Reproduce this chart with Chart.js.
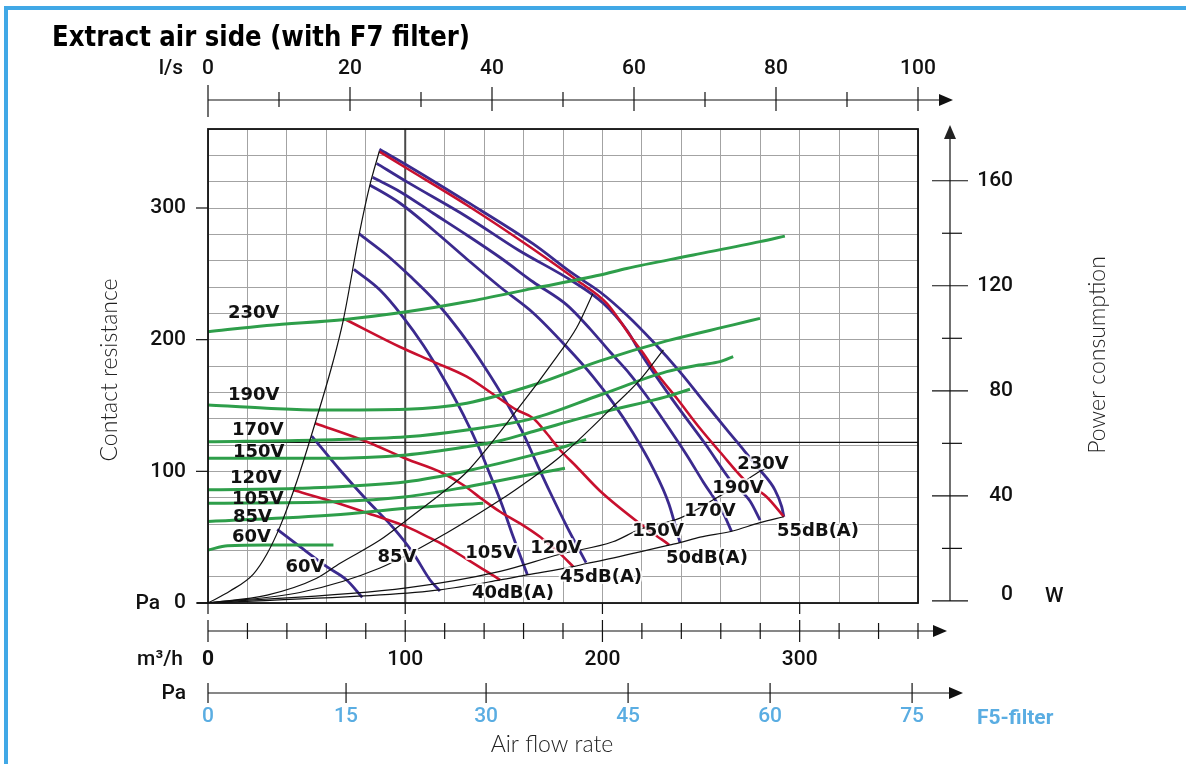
<!DOCTYPE html>
<html>
<head>
<meta charset="utf-8">
<script src="https://cdn.jsdelivr.net/npm/chart.js@4.4.1/dist/chart.umd.min.js"></script>
<style>
  html, body { margin: 0; padding: 0; background: #fff; }
  #wrap { width: 1186px; height: 764px; }
</style>
</head>
<body>
<div id="wrap"><canvas id="chart" width="1186" height="764"></canvas></div>
<script>
// ---- data: [air flow m3/h, pressure Pa] ----
const FAN_230 = [[86.9,344.6],[100.7,332.7],[131.2,304.8],[164.9,272.7],[185.2,249.9],[198.8,236.2],[212.3,218.7],[225.8,198.2],[239.4,175.4],[252.0,151.9],[268.2,122.3],[279.9,101.0],[287.5,85.8],[290.9,73.1],[292.0,65.5]];
const FAN_190 = [[85.5,333.9],[100.7,320.0],[131.2,293.4],[157.3,268.1],[185.2,244.0],[200.4,227.6],[212.3,207.3],[220.6,186.8],[235.9,153.7],[252.5,120.0],[265.6,91.9],[274.8,77.5],[279.9,63.0]];
const FAN_170 = [[83.5,323.3],[97.4,312.4],[114.2,296.0],[131.2,279.5],[148.1,262.4],[164.9,243.8],[181.9,226.4],[193.7,208.2],[203.9,190.6],[213.9,173.9],[222.4,157.2],[232.6,135.2],[242.7,112.4],[251.1,91.9],[261.3,68.1],[265.5,54.2]];
const FAN_150 = [[82.1,317.5],[97.4,303.6],[114.2,283.3],[131.2,261.3],[148.1,240.0],[164.9,220.3],[181.9,194.4],[195.4,171.6],[205.5,151.8],[215.6,128.9],[225.6,102.5],[233.7,75.2],[239.3,45.8]];
const FAN_120 = [[76.7,280.3],[90.6,264.3],[102.4,248.3],[115.6,228.6],[128.3,205.1],[140.6,178.5],[151.5,151.9],[159.9,128.4],[166.8,105.6],[173.4,84.3],[182.1,57.7],[191.7,30.6]];
const FAN_105 = [[74.0,253.4],[87.2,237.7],[98.9,217.2],[109.1,195.9],[119.3,170.9],[129.5,142.9],[137.9,116.2],[143.5,95.7],[149.1,74.4],[154.8,50.1],[162.0,21.3]];
const FAN_85 = [[52.6,126.8],[66.9,101.0],[80.5,78.2],[94.0,57.0],[104.1,37.7],[112.6,17.5],[117.6,9.1]];
const FAN_60 = [[35.1,56.0],[46.6,42.8],[60.2,27.6],[70.3,17.5],[78.2,4.3]];

// sound level lines
const DB_40 = [[43.2,85.8],[63.5,76.9],[83.8,66.8],[100.7,58.0],[110.9,50.6],[117.6,45.6],[131.2,33.4],[148.1,17.5]];
const DB_45 = [[54.3,136.5],[80.5,122.5],[100.7,109.4],[117.6,99.7],[129.4,89.6],[139.6,78.2],[148.1,69.3],[158.2,60.5],[168.3,50.3],[178.5,37.5],[185.2,27.6]];
const DB_50 = [[69.5,215.5],[97.4,194.4],[114.2,183.3],[131.2,171.9],[146.4,156.7],[156.5,146.6],[164.9,140.3],[171.7,128.9],[178.5,116.2],[186.9,103.5],[198.8,85.1],[219.0,60.3],[233.9,44.1]];
const DB_55 = [[86.9,342.8],[100.7,330.2],[131.2,302.3],[163.3,270.4],[186.9,245.3],[202.2,227.6],[215.6,199.7],[220.7,189.6],[227.5,174.5],[237.6,155.7],[248.9,133.7],[259.6,114.7],[273.1,91.9],[283.3,80.5],[292.0,65.5]];

// system curves (black)
const SYS_1 = [[0,0],[11.2,9.1],[23.0,22.0],[29.8,37.0],[36.5,58.0],[45.1,92.7],[54.8,139.0],[63.5,183.8],[68.6,214.9],[76.7,280.3],[82.1,317.5],[86.9,343.3]];
const SYS_2 = [[0,0],[30,6],[55.1,18.8],[67.0,30.2],[87.2,47.8],[100.7,62.9],[121.0,86.4],[131.2,99.5],[156.7,146.6],[176.8,187.0],[186.9,209.0],[195.1,234.9]];
const SYS_3 = [[0,0],[46.6,8],[87.2,26.6],[121.0,53.2],[148.1,78.2],[156.5,86.6],[178.5,111.1],[205.5,149.3],[219.0,169.5],[230.9,192.3]];
const SYS_4 = [[0,0],[100.7,11.5],[148.1,24],[178.5,37],[205.3,46.5],[219,56],[239.3,64.5],[258,80],[269.7,90],[279.9,100],[282.9,102]];
const SYS_5 = [[0,0],[87.2,6.1],[117.6,10],[148.1,17.5],[161.6,21.3],[185.2,27.6],[192,30],[198.8,32],[234.3,44.1],[239.3,45.8],[249.5,50],[265.5,54.5],[279.9,61],[292,65.5]];

// power consumption [air flow m3/h, W]
const POW_230 = [[0,102.5],[29.8,104.9],[69.5,107.2],[100.7,110.1],[131.2,113.9],[164.9,119.0],[198.8,124.1],[212.3,126.6],[246.1,131.7],[279.9,136.8],[292.5,138.9]];
const POW_190 = [[0,74.6],[29.8,73.4],[56.8,72.7],[100.7,73.0],[131.2,75.3],[164.9,82.2],[198.8,91.4],[232.6,99.0],[266.3,105.1],[279.9,107.6]];
const POW_170 = [[0,60.6],[56.8,61.3],[100.7,62.5],[131.2,65.1],[164.9,69.5],[198.8,78.4],[232.6,87.3],[248.9,89.8],[259.6,91.1],[266.3,93.0]];
const POW_150 = [[0,54.3],[56.8,54.3],[100.7,55.6],[131.2,58.7],[148.1,61.0],[164.9,64.5],[198.8,71.6],[232.6,77.8],[244.4,80.6]];
const POW_120 = [[0,42.3],[46.6,42.9],[100.7,45.4],[131.2,49.5],[164.9,55.6],[181.9,59.0],[191.7,61.5]];
const POW_105 = [[0,37.2],[63.5,37.8],[100.7,39.7],[131.2,43.4],[164.9,48.3],[181.0,50.5]];
const POW_85 = [[0,30.2],[63.5,32.7],[100.7,35.3],[139.6,37.2]];
const POW_60 = [[0,19.4],[10,21.0],[30,21.3],[63.6,21.3]];

const VOLTAGES = ["230V", "190V", "170V", "150V", "120V", "105V", "85V", "60V"];
const DB_NAMES = ["40dB(A)", "45dB(A)", "50dB(A)", "55dB(A)"];

// axis ticks
const LS_TICKS = [0, 10, 20, 30, 40, 50, 60, 70, 80, 90, 100];
const LS_LABELS = [0, 20, 40, 60, 80, 100];
const FLOW_LABELS = [0, 100, 200, 300];
const PA_LABELS = [0, 100, 200, 300];
const W_TICKS = [0, 20, 40, 60, 80, 100, 120, 140, 160];
const W_LABELS = [0, 40, 80, 120, 160];
const F5_LABELS = [0, 15, 30, 45, 60, 75];
const F5_FLOW = [0, 70, 141, 213, 285, 357];

const PURPLE = "#3b2a8e";
const RED = "#c8102e";
const GREEN = "#2e9e4a";
const BLUE = "#5aade2";
const FRAME_BLUE = "#41a8e6";
const NUM_FONT = '500 21px Roboto, "DejaVu Sans"';
const LABEL_FONT = 'bold 18px "DejaVu Sans"';
const LIGHT_FONT = '300 23px Lato, "Open Sans"';

function curve(points, color, width, order, axis) {
    return {
        data: points.map(([q, v]) => ({x: q, y: v})),
        borderColor: color,
        borderWidth: width,
        showLine: true,
        pointRadius: 0,
        fill: false,
        cubicInterpolationMode: "monotone",
        yAxisID: axis || "y",
        order: order
    };
}

function seg(ctx, x1, y1, x2, y2) {
    ctx.beginPath();
    ctx.moveTo(x1, y1);
    ctx.lineTo(x2, y2);
    ctx.stroke();
}

function label(ctx, s, x, y, font, color, align, halo) {
    ctx.font = font;
    ctx.textAlign = align || "center";
    ctx.textBaseline = "middle";
    if (halo) {
        ctx.strokeStyle = "rgba(255,255,255,0.85)";
        ctx.lineWidth = 4;
        ctx.lineJoin = "round";
        ctx.strokeText(s, x, y);
    }
    ctx.fillStyle = color;
    ctx.fillText(s, x, y);
}

const decor = {
    id: "decor",
    beforeDatasetsDraw(chart) {
        const {ctx, chartArea: a, scales: {x, yW}} = chart;
        ctx.save();
        ctx.strokeStyle = "#4a4a4a";
        ctx.lineWidth = 2;
        const x100 = x.getPixelForValue(100);
        seg(ctx, x100, a.top, x100, a.bottom);
        ctx.strokeStyle = "#111";
        ctx.lineWidth = 1.2;
        const y60 = yW.getPixelForValue(60) - 1;
        seg(ctx, a.left, y60, a.right, y60);
        ctx.restore();
    },
    afterDatasetsDraw(chart) {
        const {ctx, scales: {x, y}} = chart;
        ctx.save();
        // voltage labels of the power curves
        const greenPos = [[10.1, 220.3], [10.1, 158.0], [12.2, 131.4], [12.7, 114.7], [11.2, 94.9], [12.2, 79.0], [12.7, 65.3], [12.2, 50.1]];
        VOLTAGES.forEach((v, i) => {
            label(ctx, v, x.getPixelForValue(greenPos[i][0]), y.getPixelForValue(greenPos[i][1]), LABEL_FONT, "#111", "left", false);
        });
        // voltage labels of the fan curves
        const fanPos = [[281.4, 105.6], [268.7, 87.3], [254.5, 69.9], [228.2, 54.7], [176.4, 41.8], [143.5, 38.0], [95.8, 34.9], [49.2, 27.3]];
        VOLTAGES.forEach((v, i) => {
            label(ctx, v, x.getPixelForValue(fanPos[i][0]), y.getPixelForValue(fanPos[i][1]), LABEL_FONT, "#111", "center", true);
        });
        const dbPos = [[154.6, 7.6], [199.3, 19.7], [253.0, 34.2], [309.3, 54.7]];
        DB_NAMES.forEach((v, i) => {
            label(ctx, v, x.getPixelForValue(dbPos[i][0]), y.getPixelForValue(dbPos[i][1]), LABEL_FONT, "#111", "center", true);
        });
        ctx.restore();
    },
    afterDraw(chart) {
        const {ctx, chartArea: a, scales: {x, y, yW}} = chart;
        ctx.save();
        ctx.strokeStyle = "#111";
        ctx.fillStyle = "#111";

        // plot frame
        ctx.lineWidth = 1.8;
        ctx.strokeRect(a.left, a.top, a.right - a.left, a.bottom - a.top);
        seg(ctx, 197, a.bottom, a.left, a.bottom);

        // left pressure ticks
        ctx.lineWidth = 1.2;
        PA_LABELS.forEach(p => {
            const py = y.getPixelForValue(p);
            seg(ctx, 196, py, a.left, py);
            label(ctx, String(p), 186, py, NUM_FONT, "#111", "right");
        });
        label(ctx, "Pa", 160, a.bottom + 1, NUM_FONT, "#111", "right");
        FLOW_LABELS.forEach(q => {
            const px = x.getPixelForValue(q);
            seg(ctx, px, a.bottom, px, a.bottom + 11);
        });

        // top l/s axis
        const topY = 100;
        seg(ctx, a.left, topY, 942, topY);
        ctx.beginPath(); ctx.moveTo(953, topY); ctx.lineTo(939, topY - 6); ctx.lineTo(939, topY + 6); ctx.closePath(); ctx.fill();
        LS_TICKS.forEach(ls => {
            const px = x.getPixelForValue(ls * 3.6);
            if (ls === 0) seg(ctx, px, 85, px, 117);
            else if (ls % 20 === 0) seg(ctx, px, 87, px, 111);
            else seg(ctx, px, 92, px, 107);
        });
        LS_LABELS.forEach(ls => label(ctx, String(ls), x.getPixelForValue(ls * 3.6), 69, NUM_FONT, "#111"));
        label(ctx, "l/s", 183, 69, NUM_FONT, "#111", "right");

        // m3/h axis
        const flowY = 631;
        seg(ctx, a.left, flowY, 935, flowY);
        ctx.beginPath(); ctx.moveTo(947, flowY); ctx.lineTo(933, flowY - 6); ctx.lineTo(933, flowY + 6); ctx.closePath(); ctx.fill();
        for (let q = 0; q <= 360; q += 20) {
            const px = x.getPixelForValue(q);
            if (q % 100 === 0) seg(ctx, px, 620, px, 642);
            else seg(ctx, px, 623, px, 639);
        }
        FLOW_LABELS.forEach(q => {
            label(ctx, String(q), x.getPixelForValue(q), 660, q === 0 ? 'bold 21px Roboto, "DejaVu Sans"' : NUM_FONT, "#111");
        });
        label(ctx, "m³/h", 183, 660, NUM_FONT, "#111", "right");

        // F5 filter pressure axis
        const f5Y = 693;
        seg(ctx, a.left, f5Y, 951, f5Y);
        ctx.beginPath(); ctx.moveTo(963, f5Y); ctx.lineTo(949, f5Y - 6); ctx.lineTo(949, f5Y + 6); ctx.closePath(); ctx.fill();
        F5_LABELS.forEach((v, i) => {
            const px = x.getPixelForValue(F5_FLOW[i]);
            seg(ctx, px, 683, px, 703);
            label(ctx, String(v), px, 717, NUM_FONT, BLUE);
        });
        label(ctx, "Pa", 186, 694, NUM_FONT, "#111", "right");
        label(ctx, "F5-filter", 977, 719, 'bold 21px Roboto, "DejaVu Sans"', BLUE, "left");
        label(ctx, "Air flow rate", 552, 745, LIGHT_FONT, "#222");

        // right power axis
        const wX = 950;
        const w0 = yW.getPixelForValue(0);
        seg(ctx, wX, w0, wX, 138);
        ctx.beginPath(); ctx.moveTo(wX, 125); ctx.lineTo(wX - 6, 139); ctx.lineTo(wX + 6, 139); ctx.closePath(); ctx.fill();
        W_TICKS.forEach(w => {
            const py = yW.getPixelForValue(w);
            if (w % 40 === 0) seg(ctx, 932, py, 968, py);
            else seg(ctx, 942, py, 962, py);
        });
        W_LABELS.forEach(w => {
            const py = w === 0 ? w0 - 6 : yW.getPixelForValue(w);
            label(ctx, String(w), 1013, py, NUM_FONT, "#111", "right");
        });
        label(ctx, "W", 1045, w0 - 4, NUM_FONT, "#111", "left");

        // rotated axis titles
        ctx.save();
        ctx.translate(110, 370);
        ctx.rotate(-Math.PI / 2);
        label(ctx, "Contact resistance", 0, 0, LIGHT_FONT, "#222");
        ctx.restore();
        ctx.save();
        ctx.translate(1098, 355);
        ctx.rotate(-Math.PI / 2);
        label(ctx, "Power consumption", 0, 0, LIGHT_FONT, "#222");
        ctx.restore();

        // title, squeezed to the original width
        ctx.font = 'bold 28px "DejaVu Sans Condensed", "DejaVu Sans"';
        const tw = ctx.measureText("Extract air side (with F7 filter)").width;
        ctx.save();
        ctx.translate(52, 46);
        ctx.scale(Math.min(1, 418 / tw), 1);
        ctx.textAlign = "left";
        ctx.textBaseline = "alphabetic";
        ctx.fillStyle = "#000";
        ctx.fillText("Extract air side (with F7 filter)", 0, 0);
        ctx.restore();

        // blue page frame
        ctx.fillStyle = FRAME_BLUE;
        ctx.fillRect(4, 6, 1182, 4);
        ctx.fillRect(4, 6, 4, 758);
        ctx.restore();
    }
};

const datasets = [
    curve(SYS_1, "#111", 1.2, 1), curve(SYS_2, "#111", 1.2, 1), curve(SYS_3, "#111", 1.2, 1),
    curve(SYS_4, "#111", 1.2, 1), curve(SYS_5, "#111", 1.2, 1),
    curve(POW_230, GREEN, 3, 2, "yW"), curve(POW_190, GREEN, 3, 2, "yW"), curve(POW_170, GREEN, 3, 2, "yW"),
    curve(POW_150, GREEN, 3, 2, "yW"), curve(POW_120, GREEN, 3, 2, "yW"), curve(POW_105, GREEN, 3, 2, "yW"),
    curve(POW_85, GREEN, 3, 2, "yW"), curve(POW_60, GREEN, 3, 2, "yW"),
    curve(DB_40, RED, 2.6, 3), curve(DB_45, RED, 2.6, 3), curve(DB_50, RED, 2.6, 3), curve(DB_55, RED, 2.6, 3),
    curve(FAN_230, PURPLE, 2.8, 4), curve(FAN_190, PURPLE, 2.8, 4), curve(FAN_170, PURPLE, 2.8, 4),
    curve(FAN_150, PURPLE, 2.8, 4), curve(FAN_120, PURPLE, 2.8, 4), curve(FAN_105, PURPLE, 2.8, 4),
    curve(FAN_85, PURPLE, 2.8, 4), curve(FAN_60, PURPLE, 2.8, 4)
];

const grid = {color: "#a3a3a3", lineWidth: 1, drawTicks: false};

new Chart(document.querySelector("#chart").getContext("2d"), {
    type: "scatter",
    data: {datasets: datasets},
    options: {
        responsive: false,
        animation: false,
        events: [],
        layout: {padding: {left: 208, right: 268, top: 129, bottom: 161}},
        scales: {
            x: {
                type: "linear", min: 0, max: 360,
                ticks: {display: false, stepSize: 20},
                grid: grid,
                border: {display: false}
            },
            y: {
                type: "linear", position: "left", min: 0, max: 360,
                ticks: {display: false, stepSize: 20},
                grid: grid,
                border: {display: false}
            },
            yW: {
                type: "linear", position: "right", min: -0.8, max: 179.7,
                display: false
            }
        },
        plugins: {
            legend: {display: false},
            tooltip: {enabled: false}
        }
    },
    plugins: [decor]
});
</script>
</body>
</html>
